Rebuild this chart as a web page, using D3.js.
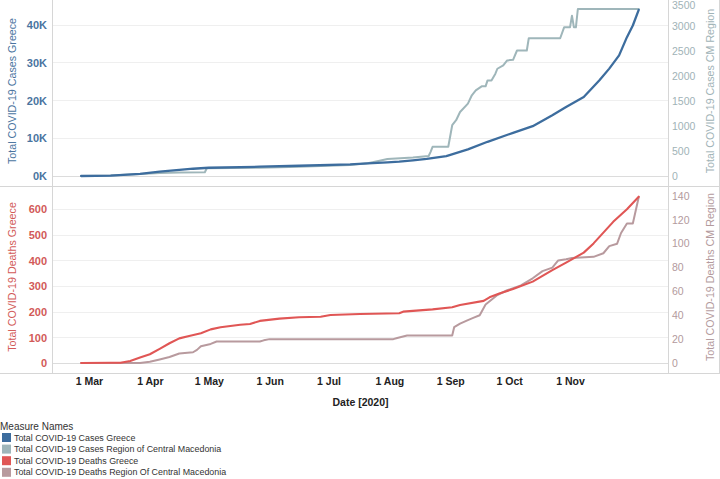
<!DOCTYPE html>
<html><head><meta charset="utf-8">
<script src="https://cdn.jsdelivr.net/npm/d3@7"></script>
<style>
html,body{margin:0;padding:0;background:#fff;}
svg{display:block;font-family:"Liberation Sans",Arial,sans-serif;}
</style></head>
<body><svg id="chart" width="720" height="479"></svg>
<script>
// ---------- DATA ----------
const xTickDates = ["2020-03-01","2020-04-01","2020-05-01","2020-06-01","2020-07-01","2020-08-01","2020-09-01","2020-10-01","2020-11-01"];
const xTickLabels = ["1 Mar","1 Apr","1 May","1 Jun","1 Jul","1 Aug","1 Sep","1 Oct","1 Nov"];
const casesTicksLeft = [0,10000,20000,30000,40000];
const casesTickLabelsLeft = ["0K","10K","20K","30K","40K"];
const casesTicksRight = [0,500,1000,1500,2000,2500,3000,3500];
const deathsTicksLeft = [0,100,200,300,400,500,600];
const deathsTicksRight = [0,20,40,60,80,100,120,140];

const seriesNames = ["Total COVID-19 Cases Greece","Total COVID-19 Cases Region of Central Macedonia","Total COVID-19 Deaths Greece","Total COVID-19 Deaths Region Of Central Macedonia"];
const seriesColors = ["#3d6d9e","#9fb6ba","#e05655","#b89a9e"];

const casesGreece = [
["2020-02-26",0],["2020-03-12",100],["2020-03-27",540],["2020-04-06",1130],["2020-04-16",1600],
["2020-04-23",1920],["2020-05-01",2180],["2020-05-27",2450],["2020-06-16",2710],["2020-07-12",3080],
["2020-07-21",3340],["2020-07-31",3600],["2020-08-06",3770],["2020-08-13",4100],["2020-08-20",4500],
["2020-08-30",5260],["2020-09-10",7020],["2020-09-20",9030],["2020-10-03",11400],["2020-10-13",13160],
["2020-10-23",16050],["2020-10-30",18240],["2020-11-08",20880],["2020-11-16",25270],["2020-11-21",28350],
["2020-11-26",31850],["2020-11-30",36660],["2020-12-03",39740],["2020-12-06",43870]];

const casesCM = [
["2020-02-26",0],["2020-03-12",10],["2020-03-27",40],["2020-04-06",60],["2020-04-16",70],
["2020-04-29",75],["2020-04-30",155],["2020-05-27",165],["2020-06-16",185],["2020-07-12",219],
["2020-07-21",253],["2020-07-27",305],["2020-07-31",339],["2020-08-13",370],["2020-08-21",400],
["2020-08-22",484],["2020-08-23",584],["2020-08-31",584],["2020-09-02",1016],["2020-09-04",1116],
["2020-09-06",1281],["2020-09-10",1448],["2020-09-12",1614],["2020-09-14",1713],["2020-09-17",1793],
["2020-09-19",1793],["2020-09-20",1912],["2020-09-22",1912],["2020-09-24",2046],["2020-09-25",2145],
["2020-09-28",2211],["2020-09-30",2311],["2020-10-03",2324],["2020-10-05",2510],["2020-10-10",2510],
["2020-10-11",2755],["2020-10-27",2755],["2020-10-29",2974],["2020-11-01",2974],["2020-11-02",3207],
["2020-11-03",2974],["2020-11-04",2974],["2020-11-05",3340],["2020-12-06",3340]];

const deathsGreece = [
["2020-02-26",0],["2020-03-12",1],["2020-03-17",1],["2020-03-22",8],["2020-03-27",21],
["2020-04-01",34],["2020-04-06",55],["2020-04-11",77],["2020-04-16",96],["2020-04-21",105],
["2020-04-27",116],["2020-05-02",131],["2020-05-07",139],["2020-05-17",149],["2020-05-22",152],
["2020-05-27",164],["2020-06-06",173],["2020-06-16",178],["2020-06-27",180],["2020-07-02",187],
["2020-07-17",191],["2020-08-06",194],["2020-08-08",200],["2020-08-23",209],["2020-09-02",217],
["2020-09-06",226],["2020-09-18",242],["2020-09-21",256],["2020-09-26",271],["2020-10-03",288],
["2020-10-13",317],["2020-10-23",362],["2020-10-30",391],["2020-11-08",430],["2020-11-13",466],
["2020-11-23",550],["2020-11-30",599],["2020-12-06",648]];

const deathsCM = [
["2020-02-26",0],["2020-03-27",0],["2020-04-01",1],["2020-04-06",3],["2020-04-11",5],
["2020-04-16",8],["2020-04-23",9],["2020-04-25",11],["2020-04-27",14],["2020-05-02",16],
["2020-05-05",18],["2020-05-27",18],["2020-05-29",19],["2020-06-01",20],["2020-08-03",20],
["2020-08-05",21],["2020-08-10",23],["2020-09-02",23],["2020-09-03",30],["2020-09-06",33],
["2020-09-10",36],["2020-09-13",38],["2020-09-16",40],["2020-09-19",49],["2020-09-22",53],
["2020-09-25",57],["2020-09-30",61],["2020-10-07",65],["2020-10-13",71],["2020-10-18",77],
["2020-10-23",80],["2020-10-26",86],["2020-10-30",87],["2020-11-02",88],["2020-11-13",89],
["2020-11-18",92],["2020-11-21",98],["2020-11-25",100],["2020-11-27",109],["2020-11-30",117],
["2020-12-03",117],["2020-12-06",139]];

// ---------- CHART ----------
const parse = d3.timeParse("%Y-%m-%d");
const svg = d3.select("#chart");
const FONT = "'Liberation Sans',Arial,sans-serif";
const L = 53, R = 668;
const top1 = 0, bot1 = 186, top2 = 187, bot2 = 373;

const x = d3.scaleTime().domain([parse("2020-03-01"), parse("2020-11-01")]).range([89, 570]);
const yCL = d3.scaleLinear().domain([0, 40000]).range([176, 24.5]);
const yCR = d3.scaleLinear().domain([0, 3500]).range([176, 1]);
const yDL = d3.scaleLinear().domain([0, 600]).range([363, 209]);
const yDR = d3.scaleLinear().domain([0, 140]).range([363, 196]);

const defs = svg.append("defs");
defs.append("clipPath").attr("id","c1").append("rect").attr("x",L).attr("y",top1).attr("width",R-L).attr("height",bot1-top1);
defs.append("clipPath").attr("id","c2").append("rect").attr("x",L).attr("y",top2).attr("width",R-L).attr("height",bot2-top2);

// gridlines
svg.append("g").selectAll("line").data(casesTicksLeft).join("line")
  .attr("x1",L).attr("x2",R).attr("y1",d=>Math.round(yCL(d))+0.5).attr("y2",d=>Math.round(yCL(d))+0.5)
  .attr("stroke",d=>d===0?"#dcdcdc":"#efefef").attr("stroke-width",1);
svg.append("g").selectAll("line").data(deathsTicksLeft).join("line")
  .attr("x1",L).attr("x2",R).attr("y1",d=>Math.round(yDL(d))+0.5).attr("y2",d=>Math.round(yDL(d))+0.5)
  .attr("stroke",d=>d===0?"#dcdcdc":"#efefef").attr("stroke-width",1);

// frame lines
const frame = svg.append("g").attr("stroke","#d6d6d6").attr("stroke-width",1);
frame.append("line").attr("x1",0).attr("x2",720).attr("y1",bot1+0.5).attr("y2",bot1+0.5);
frame.append("line").attr("x1",0).attr("x2",720).attr("y1",bot2+0.5).attr("y2",bot2+0.5);
frame.append("line").attr("x1",L-0.5).attr("x2",L-0.5).attr("y1",0).attr("y2",bot2);
frame.append("line").attr("x1",R+0.5).attr("x2",R+0.5).attr("y1",0).attr("y2",bot2);
frame.append("line").attr("x1",719.5).attr("x2",719.5).attr("y1",0).attr("y2",bot2);

// lines
function drawLine(data, yScale, color, clip, w){
  svg.append("path").datum(data)
    .attr("clip-path","url(#"+clip+")")
    .attr("fill","none").attr("stroke",color).attr("stroke-width",w)
    .attr("stroke-linejoin","round").attr("stroke-linecap","round")
    .attr("d", d3.line().x(d=>x(parse(d[0]))).y(d=>yScale(d[1])));
}
drawLine(casesCM, yCR, seriesColors[1], "c1", 2);
drawLine(casesGreece, yCL, seriesColors[0], "c1", 2.3);
drawLine(deathsCM, yDR, seriesColors[3], "c2", 2);
drawLine(deathsGreece, yDL, seriesColors[2], "c2", 2.1);

// axes
function leftAxis(scale, ticks, fmt, color){
  const g = svg.append("g").attr("transform","translate("+(L-6)+",0)")
    .call(d3.axisLeft(scale).tickValues(ticks).tickFormat(fmt).tickSize(0).tickPadding(0));
  g.select(".domain").remove();
  g.selectAll("text").attr("fill",color).attr("font-size","11px").attr("font-weight","bold").attr("dy","0.35em")
    .style("font-family",FONT);
  return g;
}
function rightAxis(scale, ticks, color){
  const g = svg.append("g").attr("transform","translate("+(R+4)+",0)")
    .call(d3.axisRight(scale).tickValues(ticks).tickFormat(d3.format("d")).tickSize(0).tickPadding(0));
  g.select(".domain").remove();
  g.selectAll("text").attr("fill",color).attr("font-size","10.5px").attr("dy","0.35em")
    .style("font-family",FONT);
  g.selectAll(".tick").attr("transform", d => "translate(0,"+Math.max(5, scale(d))+")");
  return g;
}
leftAxis(yCL, casesTicksLeft, (d,i)=>casesTickLabelsLeft[i], "#4a74a0");
rightAxis(yCR, casesTicksRight, "#9fb3b7");
leftAxis(yDL, deathsTicksLeft, d=>d, "#d25a58");
rightAxis(yDR, deathsTicksRight, "#b39a9d");

// x axis
const gx = svg.append("g").attr("transform","translate(0,"+(bot2+8)+")")
  .call(d3.axisBottom(x).tickValues(xTickDates.map(parse)).tickFormat((d,i)=>xTickLabels[i]).tickSize(0).tickPadding(0));
gx.select(".domain").remove();
gx.selectAll("text").attr("fill","#222").attr("font-size","10.5px").attr("font-weight","bold").attr("dy","0.35em").attr("y",0)
  .style("font-family",FONT);

svg.append("text").attr("x",(L+R)/2).attr("y",406).attr("text-anchor","middle")
  .attr("font-size","10.5px").attr("font-weight","bold").attr("fill","#222").text("Date [2020]");

// axis titles
function vTitle(txt, xp, yp, color){
  svg.append("text").attr("transform","translate("+xp+","+yp+") rotate(-90)")
    .attr("text-anchor","middle").attr("font-size","10.7px").attr("fill",color).text(txt);
}
vTitle("Total COVID-19 Cases Greece", 16, 91, "#4a74a0");
vTitle("Total COVID-19 Cases CM Region", 714, 91, "#9fb3b7");
vTitle("Total COVID-19 Deaths Greece", 16, 277, "#d25a58");
vTitle("Total COVID-19 Deaths CM Region", 714, 277, "#b39a9d");

// legend
const lg = svg.append("g");
lg.append("text").attr("x",0).attr("y",430).attr("font-size","10px").attr("fill","#333").text("Measure Names");
const items = lg.selectAll("g.item").data(seriesNames).join("g").attr("class","item")
  .attr("transform",(d,i)=>"translate(0,"+(437.5+i*11.6)+")");
items.append("rect").attr("x",2).attr("y",-4.5).attr("width",9).attr("height",9).attr("fill",(d,i)=>seriesColors[i]);
items.append("text").attr("x",14).attr("y",0).attr("dy","0.35em").attr("font-size","8.9px").attr("fill","#333").text(d=>d);
</script></body></html>
